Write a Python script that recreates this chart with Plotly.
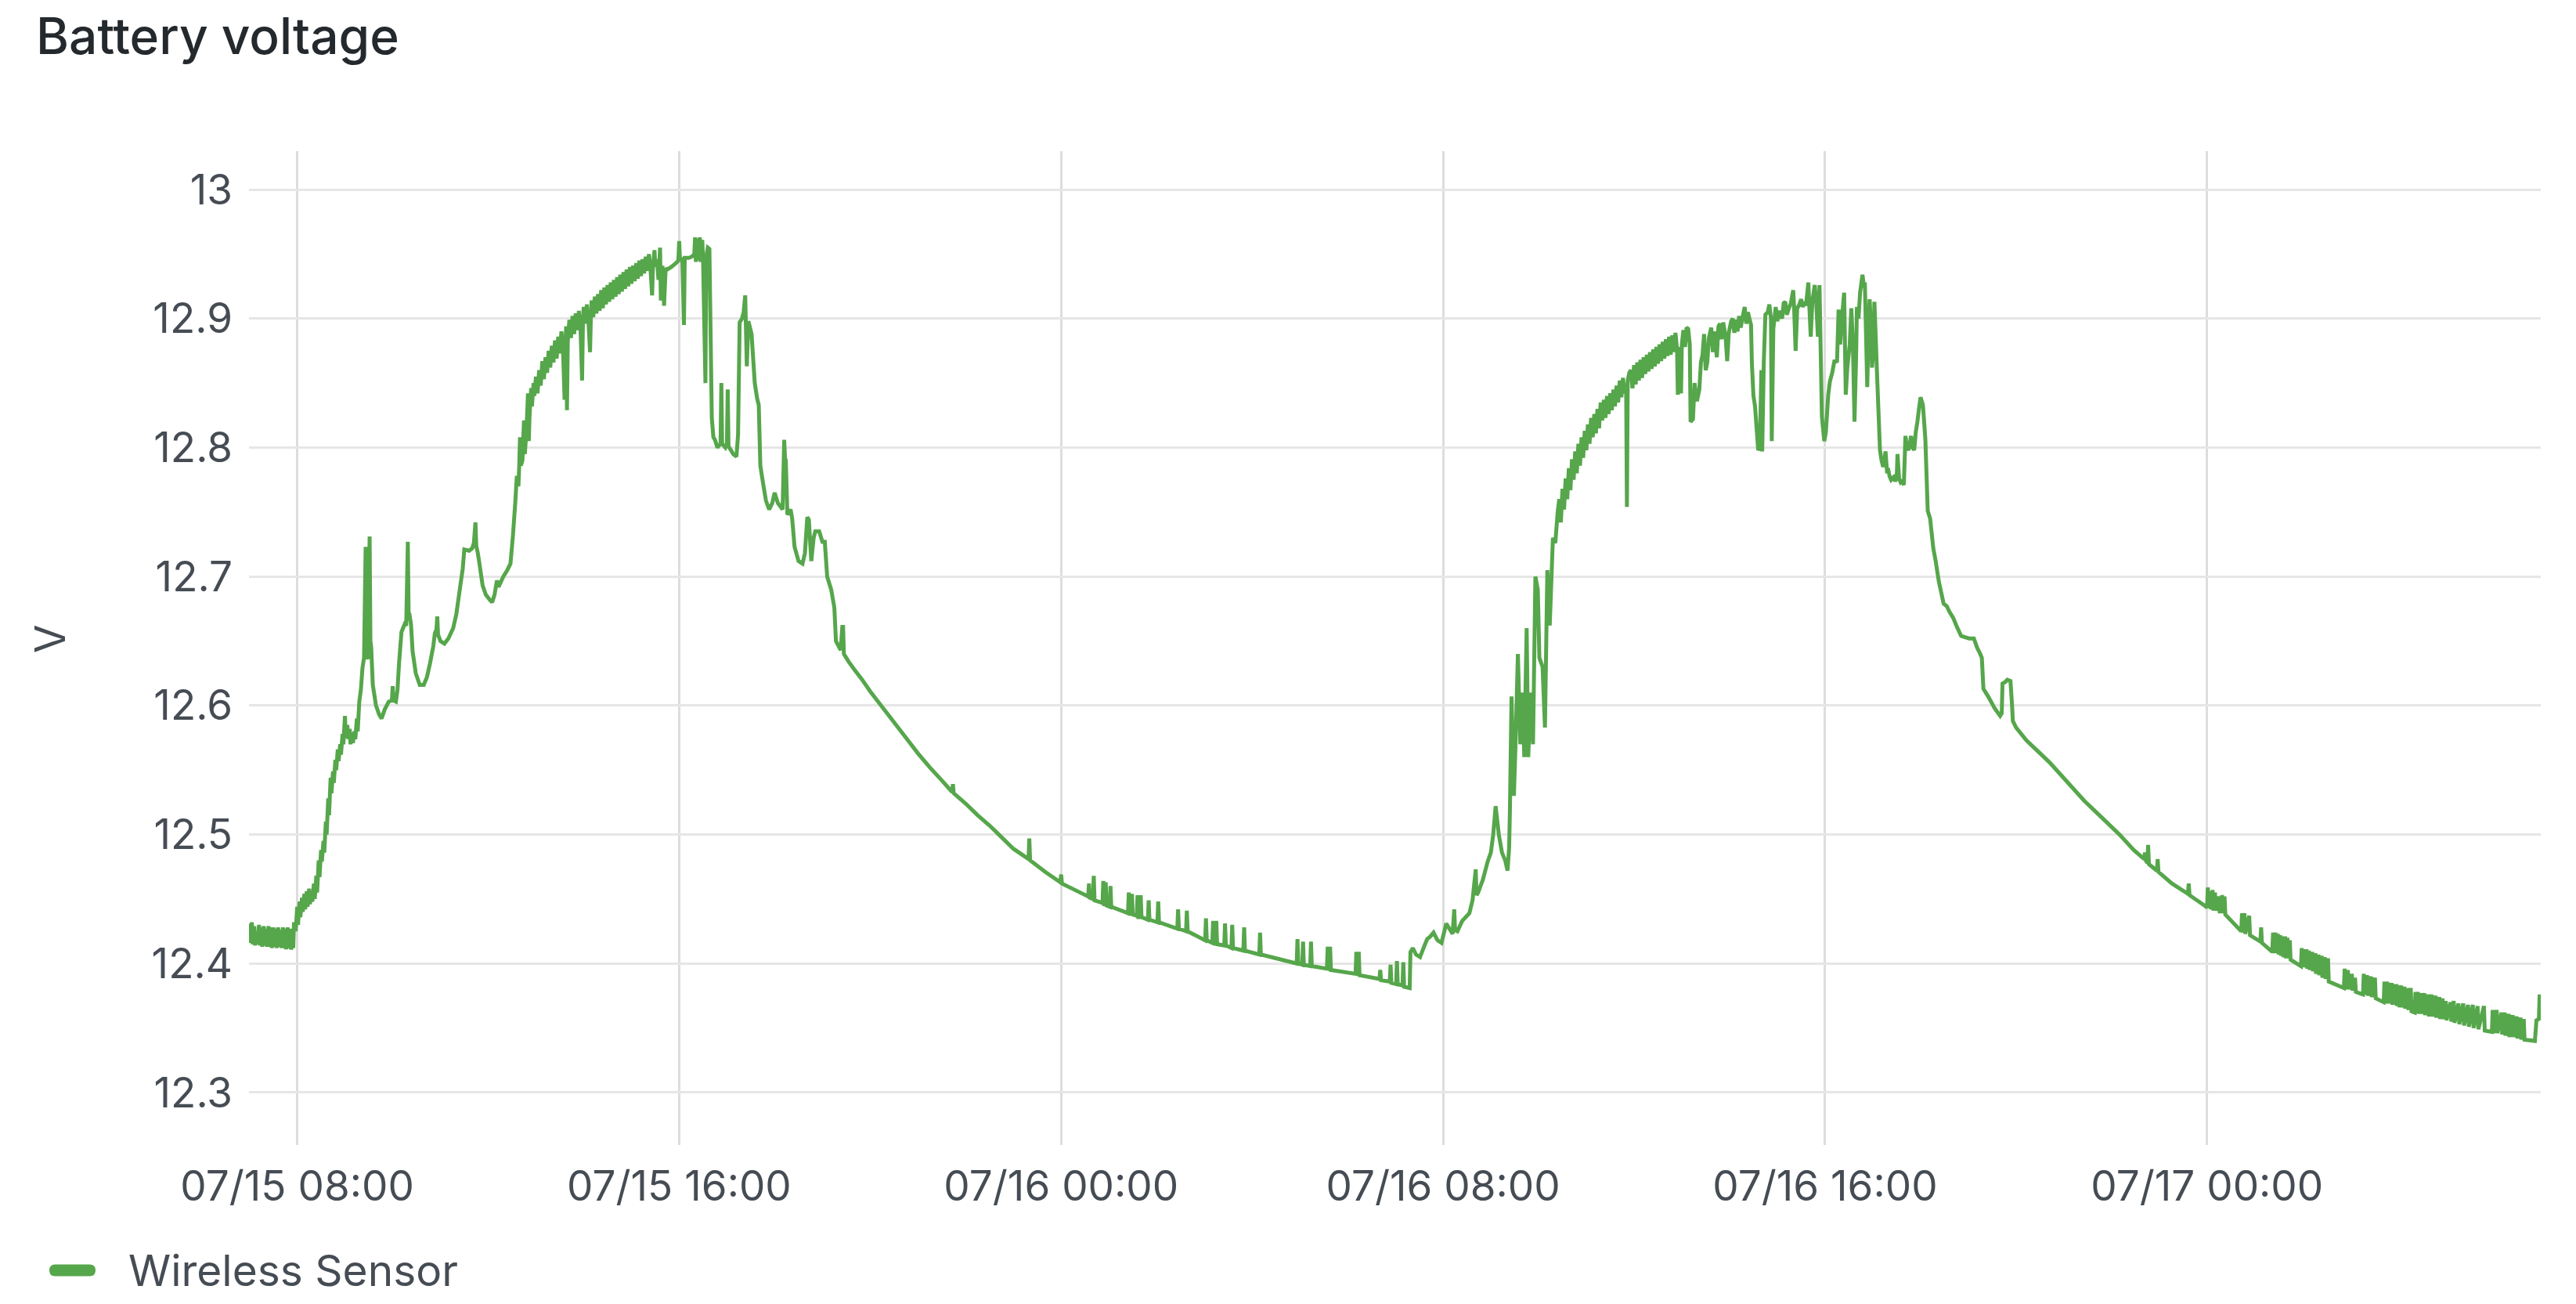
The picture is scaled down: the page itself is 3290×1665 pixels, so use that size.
import plotly.graph_objects as go

# readings as (clock time, volts), one list per stretch of the two days
jul15_dawn = [
    ("07:00", 12.431), ("07:01", 12.416), ("07:03", 12.432), ("07:04", 12.415), ("07:06", 12.429),
    ("07:07", 12.414), ("07:09", 12.424), ("07:10", 12.415), ("07:12", 12.430), ("07:13", 12.414),
    ("07:15", 12.428), ("07:16", 12.413), ("07:18", 12.429), ("07:19", 12.414), ("07:21", 12.427),
    ("07:22", 12.413), ("07:24", 12.429), ("07:25", 12.413), ("07:27", 12.428), ("07:28", 12.412),
    ("07:30", 12.428), ("07:31", 12.413), ("07:33", 12.427), ("07:34", 12.412), ("07:36", 12.428),
    ("07:37", 12.413), ("07:39", 12.426), ("07:40", 12.412), ("07:42", 12.428), ("07:43", 12.412),
    ("07:45", 12.427), ("07:46", 12.411), ("07:48", 12.428), ("07:49", 12.412), ("07:51", 12.427),
    ("07:52", 12.411), ("07:54", 12.414), ("07:55", 12.412),
]

jul15_morning = [
    ("07:56", 12.432), ("07:58", 12.425), ("08:00", 12.444), ("08:01", 12.430), ("08:03", 12.448),
    ("08:04", 12.436), ("08:06", 12.451), ("08:07", 12.440), ("08:09", 12.454), ("08:10", 12.442),
    ("08:12", 12.456), ("08:13", 12.444), ("08:15", 12.458), ("08:16", 12.446), ("08:18", 12.456),
    ("08:19", 12.448), ("08:21", 12.462), ("08:22", 12.450), ("08:24", 12.468), ("08:25", 12.455),
    ("08:27", 12.480), ("08:28", 12.467), ("08:30", 12.488), ("08:31", 12.479), ("08:33", 12.495),
    ("08:34", 12.486), ("08:36", 12.510), ("08:37", 12.500), ("08:39", 12.528), ("08:40", 12.515),
    ("08:42", 12.544), ("08:43", 12.532), ("08:45", 12.549), ("08:46", 12.540), ("08:48", 12.558),
    ("08:49", 12.550), ("08:51", 12.566), ("08:52", 12.557), ("08:54", 12.570), ("08:55", 12.562),
    ("08:57", 12.578), ("08:58", 12.570), ("09:00", 12.592), ("09:01", 12.575), ("09:03", 12.585),
    ("09:04", 12.574), ("09:06", 12.582), ("09:07", 12.570), ("09:09", 12.579), ("09:10", 12.571),
    ("09:12", 12.580), ("09:13", 12.574), ("09:15", 12.590), ("09:16", 12.580), ("09:18", 12.603),
    ("09:20", 12.612), ("09:22", 12.629), ("09:24", 12.637), ("09:26", 12.723), ("09:27", 12.640),
    ("09:29", 12.636), ("09:31", 12.731), ("09:32", 12.650), ("09:33", 12.645), ("09:35", 12.616),
    ("09:37", 12.608), ("09:39", 12.600), ("09:43", 12.593), ("09:46", 12.590), ("09:50", 12.597),
    ("09:55", 12.603), ("09:59", 12.604), ("10:00", 12.615), ("10:01", 12.604), ("10:04", 12.603),
    ("10:06", 12.612), ("10:08", 12.633), ("10:11", 12.657), ("10:15", 12.663), ("10:17", 12.662),
    ("10:19", 12.727), ("10:20", 12.672), ("10:21", 12.671), ("10:23", 12.663), ("10:25", 12.642),
    ("10:29", 12.625), ("10:34", 12.616), ("10:39", 12.616), ("10:43", 12.622), ("10:47", 12.633),
    ("10:51", 12.646), ("10:53", 12.656), ("10:55", 12.659), ("10:56", 12.669), ("10:57", 12.655),
    ("11:00", 12.650), ("11:05", 12.648), ("11:10", 12.652), ("11:16", 12.660), ("11:20", 12.671),
    ("11:25", 12.693), ("11:28", 12.706), ("11:30", 12.721), ("11:36", 12.720), ("11:40", 12.722),
    ("11:42", 12.726), ("11:44", 12.742), ("11:45", 12.724), ("11:47", 12.718), ("11:49", 12.710),
    ("11:53", 12.693), ("11:57", 12.686), ("12:02", 12.682), ("12:05", 12.680), ("12:08", 12.686),
    ("12:11", 12.697), ("12:13", 12.692), ("12:19", 12.700), ("12:24", 12.705), ("12:28", 12.710),
    ("12:31", 12.731), ("12:34", 12.757), ("12:36", 12.778), ("12:38", 12.770), ("12:39", 12.786),
    ("12:40", 12.808), ("12:41", 12.786), ("12:43", 12.790), ("12:45", 12.821), ("12:46", 12.795),
    ("12:48", 12.812), ("12:50", 12.842), ("12:51", 12.805), ("12:52", 12.825), ("12:54", 12.846),
    ("12:55", 12.832), ("12:57", 12.850), ("12:58", 12.840),
]

jul15_noon = [
    ("13:00", 12.855), ("13:02", 12.842), ("13:04", 12.860), ("13:06", 12.848), ("13:08", 12.867),
    ("13:10", 12.853), ("13:12", 12.870), ("13:14", 12.858), ("13:16", 12.875), ("13:18", 12.862),
    ("13:20", 12.879), ("13:22", 12.866), ("13:24", 12.883), ("13:26", 12.869), ("13:28", 12.886),
    ("13:30", 12.873), ("13:32", 12.890), ("13:34", 12.877), ("13:36", 12.837), ("13:37", 12.880),
    ("13:38", 12.894), ("13:39", 12.829), ("13:40", 12.882), ("13:42", 12.899), ("13:44", 12.885),
    ("13:46", 12.902), ("13:48", 12.888), ("13:50", 12.904), ("13:52", 12.891), ("13:54", 12.906),
    ("13:56", 12.893), ("13:58", 12.852), ("13:59", 12.895), ("14:00", 12.909), ("14:02", 12.896),
    ("14:04", 12.911), ("14:06", 12.898), ("14:08", 12.874), ("14:09", 12.900), ("14:10", 12.914),
    ("14:12", 12.901), ("14:14", 12.917), ("14:16", 12.904), ("14:18", 12.919), ("14:20", 12.906),
    ("14:22", 12.922), ("14:24", 12.908), ("14:26", 12.924), ("14:28", 12.911), ("14:30", 12.926),
    ("14:32", 12.913), ("14:34", 12.928), ("14:36", 12.915), ("14:38", 12.930), ("14:40", 12.917),
    ("14:42", 12.932), ("14:44", 12.919), ("14:46", 12.934), ("14:48", 12.921), ("14:50", 12.936),
    ("14:52", 12.923), ("14:54", 12.938), ("14:56", 12.925), ("14:58", 12.940), ("15:00", 12.927),
    ("15:02", 12.941), ("15:04", 12.929), ("15:06", 12.943), ("15:08", 12.931), ("15:10", 12.945),
    ("15:12", 12.933), ("15:14", 12.946), ("15:16", 12.935), ("15:18", 12.948), ("15:20", 12.937),
    ("15:22", 12.950), ("15:24", 12.938), ("15:26", 12.918), ("15:27", 12.940), ("15:29", 12.953),
    ("15:30", 12.940), ("15:32", 12.946), ("15:34", 12.930), ("15:36", 12.955), ("15:37", 12.914),
    ("15:39", 12.941), ("15:41", 12.910), ("15:43", 12.939), ("15:45", 12.938), ("15:50", 12.940),
    ("15:56", 12.943), ("15:59", 12.945), ("16:00", 12.960), ("16:01", 12.946), ("16:04", 12.946),
    ("16:06", 12.895), ("16:07", 12.947), ("16:12", 12.947), ("16:16", 12.948), ("16:19", 12.950),
    ("16:20", 12.963), ("16:21", 12.944), ("16:23", 12.962), ("16:24", 12.945), ("16:26", 12.963),
    ("16:27", 12.944), ("16:29", 12.961), ("16:30", 12.946), ("16:33", 12.850), ("16:34", 12.948),
    ("16:36", 12.955), ("16:38", 12.954),
]

jul15_afternoon = [
    ("16:41", 12.823), ("16:43", 12.808), ("16:45", 12.806), ("16:48", 12.800), ("16:52", 12.803),
    ("16:53", 12.850), ("16:54", 12.803), ("16:58", 12.800), ("17:00", 12.803), ("17:01", 12.845),
    ("17:02", 12.801), ("17:04", 12.799), ("17:08", 12.795), ("17:12", 12.793), ("17:14", 12.810),
    ("17:16", 12.897), ("17:19", 12.900), ("17:21", 12.905), ("17:23", 12.918), ("17:25", 12.863),
    ("17:27", 12.898), ("17:31", 12.888), ("17:35", 12.850), ("17:38", 12.838), ("17:40", 12.833),
    ("17:42", 12.786), ("17:45", 12.774), ("17:49", 12.759), ("17:53", 12.752), ("17:57", 12.757),
    ("18:00", 12.765), ("18:04", 12.757), ("18:10", 12.752), ("18:12", 12.806), ("18:13", 12.792),
    ("18:14", 12.790), ("18:16", 12.748), ("18:20", 12.752), ("18:22", 12.745), ("18:25", 12.723),
    ("18:30", 12.712), ("18:35", 12.710), ("18:38", 12.718), ("18:41", 12.746), ("18:43", 12.744),
    ("18:46", 12.712), ("18:49", 12.730), ("18:51", 12.735), ("18:56", 12.735), ("19:00", 12.727),
    ("19:03", 12.727), ("19:06", 12.700), ("19:11", 12.690), ("19:15", 12.676), ("19:17", 12.650),
    ("19:23", 12.643), ("19:25", 12.661), ("19:26", 12.661), ("19:27", 12.640), ("19:33", 12.634),
]

jul15_evening = [
    ("19:40", 12.628), ("19:50", 12.620), ("20:00", 12.611), ("20:15", 12.599), ("20:30", 12.587),
    ("20:45", 12.575), ("21:00", 12.563), ("21:15", 12.552), ("21:30", 12.542), ("21:43", 12.533),
    ("21:44", 12.539), ("21:45", 12.532), ("22:00", 12.524), ("22:15", 12.515), ("22:30", 12.507),
    ("22:45", 12.498), ("23:00", 12.489), ("23:19", 12.481), ("23:20", 12.497), ("23:21", 12.480),
    ("23:40", 12.471), ("23:59", 12.463),
]

jul16_night = [
    ("00:00", 12.469), ("00:01", 12.462), ("00:34", 12.452), ("00:35", 12.462), ("00:36", 12.451),
    ("00:40", 12.450), ("00:41", 12.468), ("00:42", 12.449), ("00:52", 12.447), ("00:53", 12.464),
    ("00:54", 12.446), ("00:55", 12.446), ("00:56", 12.463), ("00:57", 12.445), ("01:01", 12.444),
    ("01:02", 12.460), ("01:03", 12.444), ("01:20", 12.440), ("01:24", 12.439), ("01:25", 12.455),
    ("01:26", 12.439), ("01:28", 12.438), ("01:29", 12.454), ("01:30", 12.438), ("01:35", 12.437),
    ("01:36", 12.453), ("01:37", 12.436), ("01:39", 12.436), ("01:40", 12.453), ("01:41", 12.436),
    ("01:49", 12.434), ("01:50", 12.449), ("01:51", 12.434), ("02:01", 12.432), ("02:02", 12.448),
    ("02:03", 12.432), ("02:26", 12.427), ("02:27", 12.442), ("02:28", 12.427), ("02:37", 12.425),
    ("02:38", 12.441), ("02:39", 12.425), ("03:01", 12.418), ("03:02", 12.435), ("03:03", 12.418),
    ("03:10", 12.416), ("03:11", 12.433), ("03:12", 12.416), ("03:14", 12.415), ("03:15", 12.433),
    ("03:16", 12.415), ("03:25", 12.414), ("03:26", 12.431), ("03:27", 12.414), ("03:34", 12.412),
    ("03:35", 12.430), ("03:36", 12.412), ("03:49", 12.410), ("03:50", 12.428), ("03:51", 12.410),
    ("04:09", 12.407), ("04:10", 12.424), ("04:11", 12.407), ("04:56", 12.400), ("04:57", 12.419),
    ("04:58", 12.400), ("05:03", 12.399), ("05:04", 12.417), ("05:05", 12.399), ("05:13", 12.398),
    ("05:14", 12.417), ("05:15", 12.398), ("05:34", 12.396), ("05:35", 12.413), ("05:36", 12.396),
    ("05:37", 12.396), ("05:38", 12.413), ("05:39", 12.395), ("06:10", 12.392), ("06:11", 12.409),
    ("06:12", 12.392), ("06:13", 12.392), ("06:14", 12.409), ("06:15", 12.391), ("06:40", 12.388),
    ("06:41", 12.395), ("06:42", 12.387), ("06:53", 12.386), ("06:54", 12.399), ("06:55", 12.385),
    ("07:01", 12.384), ("07:02", 12.402), ("07:03", 12.384), ("07:09", 12.383), ("07:10", 12.401),
    ("07:11", 12.382), ("07:18", 12.381),
]

jul16_morning = [
    ("07:19", 12.409), ("07:22", 12.412), ("07:26", 12.407), ("07:31", 12.405), ("07:36", 12.413),
    ("07:40", 12.419), ("07:44", 12.421), ("07:48", 12.424), ("07:53", 12.418), ("07:58", 12.416),
    ("08:02", 12.426), ("08:04", 12.431), ("08:09", 12.426), ("08:12", 12.423), ("08:14", 12.442),
    ("08:15", 12.426), ("08:18", 12.425), ("08:24", 12.433), ("08:33", 12.439), ("08:37", 12.449),
    ("08:41", 12.473), ("08:42", 12.453), ("08:44", 12.455), ("08:50", 12.465), ("08:56", 12.479),
    ("09:00", 12.486), ("09:03", 12.500), ("09:06", 12.522), ("09:10", 12.500), ("09:14", 12.486),
    ("09:18", 12.480), ("09:21", 12.472), ("09:23", 12.490), ("09:24", 12.520), ("09:26", 12.607),
    ("09:29", 12.530), ("09:31", 12.570), ("09:34", 12.640), ("09:37", 12.570), ("09:40", 12.610),
    ("09:42", 12.560), ("09:45", 12.660), ("09:47", 12.560), ("09:50", 12.610), ("09:53", 12.570),
    ("09:56", 12.700), ("09:59", 12.690), ("10:01", 12.637), ("10:05", 12.630), ("10:08", 12.583),
    ("10:11", 12.705), ("10:14", 12.662), ("10:18", 12.730), ("10:21", 12.726), ("10:24", 12.750),
]

jul16_noon = [
    ("10:26", 12.760), ("10:28", 12.742), ("10:30", 12.768), ("10:32", 12.752), ("10:34", 12.776),
    ("10:36", 12.760), ("10:38", 12.784), ("10:40", 12.767), ("10:42", 12.791), ("10:44", 12.775),
    ("10:46", 12.797), ("10:48", 12.780), ("10:50", 12.803), ("10:52", 12.786), ("10:54", 12.808),
    ("10:56", 12.792), ("10:58", 12.813), ("11:00", 12.798), ("11:02", 12.818), ("11:04", 12.803),
    ("11:06", 12.823), ("11:08", 12.808), ("11:10", 12.826), ("11:12", 12.811), ("11:14", 12.830),
    ("11:16", 12.815), ("11:18", 12.835), ("11:20", 12.821), ("11:22", 12.837), ("11:24", 12.823),
    ("11:26", 12.840), ("11:28", 12.826), ("11:30", 12.842), ("11:32", 12.829), ("11:34", 12.845),
    ("11:36", 12.832), ("11:38", 12.848), ("11:40", 12.835), ("11:42", 12.852), ("11:44", 12.839),
    ("11:46", 12.854), ("11:48", 12.842), ("11:50", 12.850), ("11:51", 12.754), ("11:52", 12.852),
    ("11:54", 12.858), ("11:56", 12.860), ("11:58", 12.846), ("12:00", 12.864), ("12:02", 12.849),
    ("12:04", 12.866), ("12:06", 12.852), ("12:08", 12.868), ("12:10", 12.854), ("12:12", 12.870),
    ("12:14", 12.857), ("12:16", 12.872), ("12:18", 12.859), ("12:20", 12.874), ("12:22", 12.861),
    ("12:24", 12.876), ("12:26", 12.863), ("12:28", 12.878), ("12:30", 12.865), ("12:32", 12.880),
    ("12:34", 12.867), ("12:36", 12.882), ("12:38", 12.869), ("12:40", 12.884), ("12:42", 12.871),
    ("12:44", 12.886), ("12:46", 12.872), ("12:48", 12.887), ("12:50", 12.874), ("12:52", 12.889),
    ("12:54", 12.876), ("12:55", 12.841), ("12:57", 12.878), ("12:59", 12.842), ("13:00", 12.880),
]

jul16_afternoon = [
    ("13:02", 12.891), ("13:04", 12.878), ("13:06", 12.893), ("13:08", 12.892), ("13:10", 12.880),
    ("13:11", 12.820), ("13:14", 12.822), ("13:16", 12.850), ("13:19", 12.836), ("13:22", 12.845),
    ("13:24", 12.866), ("13:26", 12.872), ("13:28", 12.888), ("13:30", 12.860), ("13:32", 12.866),
    ("13:34", 12.885), ("13:37", 12.893), ("13:39", 12.874), ("13:41", 12.890), ("13:44", 12.870),
    ("13:46", 12.894), ("13:48", 12.896), ("13:50", 12.884), ("13:52", 12.897), ("13:55", 12.886),
    ("13:57", 12.867), ("13:59", 12.889), ("14:02", 12.898), ("14:04", 12.900), ("14:06", 12.889),
    ("14:08", 12.899), ("14:10", 12.890), ("14:12", 12.902), ("14:14", 12.893), ("14:17", 12.903),
    ("14:19", 12.909), ("14:21", 12.896), ("14:23", 12.905), ("14:25", 12.900), ("14:27", 12.895),
    ("14:28", 12.866), ("14:30", 12.840), ("14:32", 12.832), ("14:34", 12.815), ("14:36", 12.798),
    ("14:38", 12.800), ("14:40", 12.860), ("14:41", 12.797), ("14:43", 12.866), ("14:45", 12.903),
    ("14:48", 12.905), ("14:50", 12.911), ("14:52", 12.900), ("14:53", 12.805), ("14:55", 12.892),
    ("14:58", 12.909), ("15:00", 12.898), ("15:03", 12.906), ("15:06", 12.900), ("15:08", 12.912),
    ("15:10", 12.913), ("15:12", 12.903), ("15:14", 12.907), ("15:17", 12.912), ("15:20", 12.922),
    ("15:21", 12.910), ("15:23", 12.875), ("15:25", 12.908), ("15:27", 12.910), ("15:30", 12.915),
    ("15:32", 12.909), ("15:34", 12.913), ("15:36", 12.910), ("15:39", 12.928), ("15:40", 12.913),
    ("15:42", 12.886), ("15:44", 12.913), ("15:47", 12.926), ("15:49", 12.912), ("15:51", 12.886),
    ("15:53", 12.926), ("15:56", 12.824), ("15:59", 12.805), ("16:01", 12.812), ("16:04", 12.841),
    ("16:06", 12.851), ("16:09", 12.858), ("16:12", 12.868), ("16:15", 12.866), ("16:17", 12.907),
    ("16:19", 12.880), ("16:21", 12.899), ("16:24", 12.920), ("16:26", 12.841), ("16:28", 12.862),
    ("16:31", 12.880), ("16:33", 12.908), ("16:35", 12.880), ("16:37", 12.820), ("16:39", 12.870),
    ("16:40", 12.909), ("16:42", 12.900), ("16:44", 12.920), ("16:47", 12.934), ("16:49", 12.924),
    ("16:50", 12.928), ("16:53", 12.847), ("16:55", 12.900), ("16:56", 12.915), ("16:58", 12.890),
    ("16:59", 12.862), ("17:01", 12.880), ("17:02", 12.913), ("17:04", 12.880), ("17:05", 12.862),
    ("17:07", 12.830), ("17:09", 12.798), ("17:11", 12.790), ("17:13", 12.785), ("17:15", 12.792),
    ("17:16", 12.797), ("17:18", 12.780), ("17:19", 12.784), ("17:21", 12.778), ("17:23", 12.775),
    ("17:26", 12.777), ("17:28", 12.774), ("17:30", 12.776), ("17:31", 12.795), ("17:33", 12.776),
    ("17:35", 12.773), ("17:37", 12.774), ("17:39", 12.771), ("17:41", 12.809), ("17:43", 12.800),
    ("17:45", 12.798), ("17:47", 12.805), ("17:48", 12.809), ("17:50", 12.800), ("17:52", 12.798),
    ("17:54", 12.812), ("17:56", 12.820), ("17:58", 12.830), ("18:00", 12.839), ("18:03", 12.833),
    ("18:06", 12.807), ("18:08", 12.770), ("18:09", 12.751), ("18:12", 12.745), ("18:16", 12.722),
    ("18:19", 12.712), ("18:23", 12.696), ("18:29", 12.679), ("18:33", 12.677), ("18:36", 12.673),
    ("18:41", 12.668), ("18:45", 12.662), ("18:51", 12.654), ("18:56", 12.653), ("19:01", 12.652),
    ("19:07", 12.652), ("19:11", 12.645), ("19:15", 12.640), ("19:17", 12.637), ("19:19", 12.613),
    ("19:25", 12.607), ("19:33", 12.598), ("19:40", 12.592), ("19:42", 12.594), ("19:43", 12.617),
    ("19:46", 12.618), ("19:49", 12.620), ("19:53", 12.619), ("19:55", 12.600), ("19:56", 12.588),
    ("20:00", 12.583), ("20:13", 12.573), ("20:25", 12.566),
]

jul16_evening = [
    ("20:42", 12.556), ("21:04", 12.541), ("21:26", 12.526), ("21:48", 12.513), ("22:10", 12.500),
    ("22:28", 12.488), ("22:41", 12.481), ("22:42", 12.486), ("22:43", 12.480), ("22:45", 12.478),
    ("22:46", 12.492), ("22:47", 12.477), ("22:57", 12.472), ("22:58", 12.481), ("22:59", 12.471),
    ("23:16", 12.462), ("23:36", 12.454), ("23:37", 12.462), ("23:38", 12.453), ("23:59", 12.444),
]

jul17_night = [
    ("00:00", 12.443), ("00:01", 12.459), ("00:02", 12.443), ("00:04", 12.456), ("00:05", 12.442),
    ("00:07", 12.457), ("00:08", 12.441), ("00:10", 12.455), ("00:11", 12.441), ("00:15", 12.452),
    ("00:16", 12.439), ("00:19", 12.453), ("00:20", 12.439), ("00:22", 12.452), ("00:23", 12.438),
    ("00:43", 12.425), ("00:44", 12.439), ("00:45", 12.424), ("00:47", 12.439), ("00:48", 12.423),
    ("00:53", 12.437), ("00:54", 12.422), ("01:07", 12.417), ("01:08", 12.428), ("01:09", 12.416),
    ("01:22", 12.409), ("01:23", 12.424), ("01:24", 12.408), ("01:26", 12.424), ("01:27", 12.408),
    ("01:29", 12.423), ("01:30", 12.407), ("01:32", 12.422), ("01:33", 12.406), ("01:35", 12.421),
    ("01:36", 12.405), ("01:38", 12.421), ("01:39", 12.404), ("01:41", 12.420), ("01:42", 12.404),
    ("01:44", 12.418), ("01:45", 12.403), ("01:58", 12.398), ("01:59", 12.412), ("02:00", 12.398),
    ("02:02", 12.411), ("02:03", 12.397), ("02:05", 12.411), ("02:06", 12.396), ("02:08", 12.410),
    ("02:09", 12.395), ("02:12", 12.409), ("02:13", 12.394), ("02:16", 12.408), ("02:17", 12.392),
    ("02:20", 12.407), ("02:21", 12.391), ("02:24", 12.406), ("02:25", 12.389), ("02:28", 12.405),
    ("02:29", 12.388), ("02:32", 12.404), ("02:33", 12.386), ("02:52", 12.381), ("02:53", 12.396),
    ("02:54", 12.380), ("02:57", 12.395), ("02:58", 12.380), ("03:02", 12.392), ("03:03", 12.379),
    ("03:06", 12.389), ("03:07", 12.378), ("03:16", 12.376), ("03:17", 12.392), ("03:18", 12.376),
    ("03:21", 12.391), ("03:22", 12.375), ("03:26", 12.390), ("03:27", 12.374), ("03:31", 12.389),
    ("03:32", 12.373), ("03:42", 12.370), ("03:43", 12.386), ("03:44", 12.370), ("03:46", 12.386),
    ("03:47", 12.369), ("03:49", 12.385), ("03:50", 12.369), ("03:52", 12.385), ("03:53", 12.368),
    ("03:55", 12.384), ("03:56", 12.368), ("03:58", 12.384), ("03:59", 12.367), ("04:01", 12.383),
    ("04:02", 12.366), ("04:04", 12.383), ("04:05", 12.366), ("04:08", 12.382), ("04:09", 12.365),
    ("04:12", 12.381), ("04:13", 12.364), ("04:16", 12.381), ("04:17", 12.363), ("04:21", 12.362),
    ("04:22", 12.378), ("04:23", 12.362), ("04:25", 12.378), ("04:26", 12.361), ("04:29", 12.377),
    ("04:30", 12.361), ("04:33", 12.377), ("04:34", 12.360), ("04:38", 12.376), ("04:39", 12.359),
    ("04:42", 12.376), ("04:43", 12.359), ("04:47", 12.375), ("04:48", 12.358), ("04:52", 12.374),
    ("04:53", 12.357), ("04:56", 12.373), ("04:57", 12.357), ("05:00", 12.371), ("05:01", 12.356),
    ("05:06", 12.370), ("05:07", 12.355), ("05:10", 12.371), ("05:11", 12.354), ("05:16", 12.369),
    ("05:17", 12.353), ("05:22", 12.369), ("05:23", 12.352), ("05:28", 12.368), ("05:29", 12.351),
    ("05:34", 12.368), ("05:35", 12.350), ("05:40", 12.367), ("05:41", 12.349), ("05:48", 12.367),
    ("05:49", 12.348), ("05:58", 12.347), ("05:59", 12.364), ("06:00", 12.346), ("06:04", 12.364),
    ("06:05", 12.346), ("06:10", 12.362), ("06:11", 12.345), ("06:14", 12.362), ("06:15", 12.344),
    ("06:19", 12.361), ("06:20", 12.343), ("06:24", 12.360), ("06:25", 12.343), ("06:29", 12.359),
    ("06:30", 12.342), ("06:34", 12.358), ("06:35", 12.341), ("06:38", 12.357), ("06:39", 12.341),
    ("06:52", 12.340), ("06:54", 12.356), ("06:57", 12.357), ("06:58", 12.376), ("06:59", 12.360),
]

x_ticks = ["2024-07-15 08:00", "2024-07-15 16:00", "2024-07-16 00:00",
           "2024-07-16 08:00", "2024-07-16 16:00", "2024-07-17 00:00"]
x_labels = ["07/15 08:00", "07/15 16:00", "07/16 00:00",
            "07/16 08:00", "07/16 16:00", "07/17 00:00"]
y_ticks = [12.3, 12.4, 12.5, 12.6, 12.7, 12.8, 12.9, 13.0]
y_labels = ["12.3", "12.4", "12.5", "12.6", "12.7", "12.8", "12.9", "13"]

GREEN = "#56A64B"
TEXT = "#464c54"
PAD = 8  # the page body adds 8px before the figure
W, H = 3290 - PAD, 1665 - PAD
L, T = 318 - PAD, 193 - PAD
R, B = W - (3245 - PAD), H - (1462 - PAD)


def __collect():
    days = [
        ("2024-07-15", jul15_dawn + jul15_morning + jul15_noon + jul15_afternoon + jul15_evening),
        ("2024-07-16", jul16_night + jul16_morning + jul16_noon + jul16_afternoon + jul16_evening),
        ("2024-07-17", jul17_night),
    ]
    xs, ys = [], []
    for day, rows in days:
        for hhmm, v in rows:
            xs.append(f"{day} {hhmm}")
            ys.append(v)
    return xs, ys


def __px(x, y):
    # position on the screenshot -> paper fraction
    x, y = x - PAD, y - PAD
    return (x - L) / (W - L - R), (H - B - y) / (H - T - B)


xs, ys = __collect()

fig = go.Figure()
fig.add_trace(go.Scatter(
    x=xs, y=ys, mode="lines", name="Wireless Sensor",
    line=dict(color=GREEN, width=5, simplify=False),
))

fig.update_layout(
    width=W, height=H,
    margin=dict(l=L, r=R, t=T, b=B),
    paper_bgcolor="white", plot_bgcolor="white",
    showlegend=False,
    font=dict(family="Inter", size=53, color=TEXT),
    title=dict(
        text="Battery voltage", xref="container", yref="container",
        x=(46 - PAD) / W, xanchor="left", y=1 - (47 - PAD) / H, yanchor="middle",
        font=dict(family="Inter", size=64, color="#24292e", weight=500),
    ),
)

fig.update_xaxes(
    type="date",
    range=["2024-07-15 06:59:24", "2024-07-17 06:59:24"],
    tickvals=x_ticks, ticktext=x_labels,
    showgrid=True, gridcolor="#dddddd", gridwidth=2.5,
    zeroline=False, showline=False, ticks="",
    ticklabelstandoff=17,
)
fig.update_yaxes(
    range=[12.2593, 13.0298],
    tickvals=y_ticks, ticktext=y_labels,
    showgrid=True, gridcolor="#e6e6e6", gridwidth=2.5,
    zeroline=False, showline=False, ticks="",
    ticklabelstandoff=20,
)

# axis unit
vx, vy = __px(64, 816)
fig.add_annotation(
    text="V", x=vx, y=vy, xref="paper", yref="paper", showarrow=False,
    xanchor="center", yanchor="middle",
    textangle=-90, font=dict(size=53, color=TEXT),
)

# legend: rounded colour chip + series name
lx, ly = __px(63, 1622)
fig.add_shape(
    type="path", xref="paper", yref="paper",
    xsizemode="pixel", ysizemode="pixel", xanchor=lx, yanchor=ly,
    path="M 7.5,-7.5 L 51.5,-7.5 Q 59,-7.5 59,0 Q 59,7.5 51.5,7.5 "
         "L 7.5,7.5 Q 0,7.5 0,0 Q 0,-7.5 7.5,-7.5 Z",
    fillcolor=GREEN, line=dict(width=0),
)
tx, ty = __px(162, 1622)
fig.add_annotation(
    text="Wireless Sensor", x=tx, y=ty, xref="paper", yref="paper",
    xanchor="left", yanchor="middle", showarrow=False,
    font=dict(size=55, color=TEXT),
)

fig.write_html("out.html")
